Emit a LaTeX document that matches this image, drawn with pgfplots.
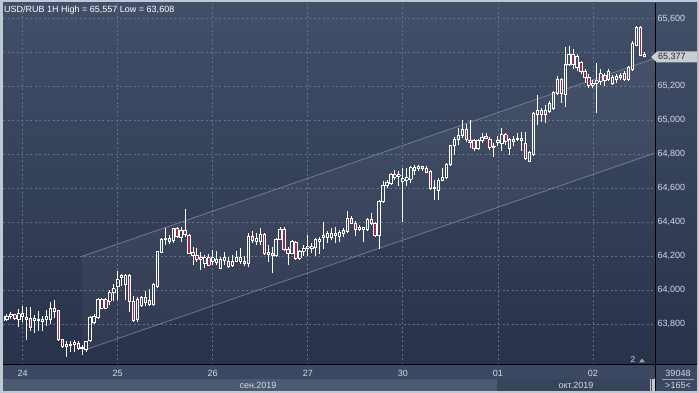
\documentclass[border=0pt]{standalone}
\usepackage{pgfplots}
\usepackage{pgfplotstable}
\pgfplotsset{compat=1.18}
\usepackage{fontspec}
\setmainfont{Liberation Sans}
\definecolor{bgtop}{RGB}{66,79,104}
\definecolor{bgbot}{RGB}{40,50,74}
\definecolor{framec}{RGB}{192,200,212}
\definecolor{gridc}{RGB}{98,112,138}
\definecolor{redc}{RGB}{160,38,74}
\definecolor{chan}{RGB}{150,160,182}
\definecolor{datesb}{RGB}{60,72,98}
\definecolor{sepb}{RGB}{76,89,115}
\definecolor{octb}{RGB}{56,68,92}
\definecolor{lbl}{RGB}{212,218,228}
\definecolor{markerc}{RGB}{200,205,214}

\pgfplotstableread{
h O H L C
-5 63816 63871 63810 63845
-4 63825 63861 63816 63845
-3 63845 63871 63831 63857
-2 63855 63861 63825 63831
-1 63825 63886 63780 63861
0 63861 63906 63810 63845
1 63837 63902 63708 63825
2 63831 63902 63759 63780
3 63820 63851 63749 63831
4 63820 63878 63759 63827
5 63816 63845 63759 63829
6 63825 63882 63790 63845
7 63825 63927 63800 63892
8 63871 63939 63837 63892
9 63878 63882 63702 63708
10 63708 63714 63657 63667
11 63667 63698 63608 63678
12 63674 63698 63637 63682
13 63678 63708 63637 63694
14 63688 63702 63645 63653
15 63653 63678 63616 63661
16 63647 63702 63637 63698
17 63702 63845 63698 63837
18 63810 63861 63800 63845
19 63837 63953 63831 63947
20 63892 63953 63886 63947
21 63943 63953 63886 63892
22 63933 64000 63912 63984
23 63984 64035 63933 64008
24 64020 64110 63939 64061
25 64075 64096 64024 64086
26 64035 64096 63943 64086
27 64086 64096 63871 63933
28 63933 63963 63810 63820
29 63827 63957 63811 63945
30 63910 63965 63900 63955
31 63925 63994 63906 63955
32 63941 64004 63906 63916
33 63916 64040 63906 64034
34 64020 64232 64010 64226
35 64222 64305 64216 64299
36 64297 64368 64265 64305
37 64285 64325 64269 64305
38 64295 64368 64275 64364
39 64360 64374 64305 64315
40 64311 64374 64285 64354
41 64354 64479 64315 64325
42 64321 64329 64210 64216
43 64222 64255 64147 64206
44 64206 64250 64166 64182
45 64194 64226 64117 64182
46 64156 64206 64130 64190
47 64190 64210 64143 64147
48 64170 64236 64147 64190
49 64162 64230 64147 64180
50 64127 64196 64123 64182
51 64172 64226 64147 64190
52 64170 64196 64131 64137
53 64143 64206 64137 64170
54 64170 64230 64166 64190
55 64170 64245 64156 64190
56 64170 64202 64143 64156
57 64156 64335 64137 64315
58 64315 64345 64275 64291
59 64285 64335 64265 64305
60 64285 64368 64265 64325
61 64325 64335 64206 64216
62 64210 64266 64164 64221
63 64217 64256 64103 64201
64 64201 64306 64193 64300
65 64300 64370 64292 64355
66 64355 64370 64227 64237
67 64241 64256 64148 64217
68 64217 64296 64213 64286
69 64280 64286 64178 64188
70 64188 64237 64178 64227
71 64227 64266 64201 64247
72 64247 64325 64201 64256
73 64243 64276 64217 64256
74 64252 64306 64201 64296
75 64286 64311 64213 64300
76 64311 64398 64241 64319
77 64311 64345 64276 64335
78 64311 64365 64296 64331
79 64319 64370 64276 64335
80 64315 64355 64280 64339
81 64331 64365 64311 64349
82 64345 64463 64335 64424
83 64424 64433 64390 64394
84 64394 64404 64319 64355
85 64370 64384 64345 64355
86 64355 64374 64280 64370
87 64355 64424 64345 64418
88 64418 64453 64384 64394
89 64390 64398 64311 64319
90 64319 64532 64241 64522
91 64522 64640 64512 64614
92 64614 64646 64600 64634
93 64630 64689 64620 64679
94 64666 64705 64650 64679
95 64679 64700 64610 64670
96 64641 64720 64400 64655
97 64647 64720 64612 64661
98 64651 64733 64631 64720
99 64706 64739 64680 64720
100 64714 64739 64700 64726
101 64726 64730 64700 64714
102 64714 64730 64690 64694
103 64700 64706 64588 64596
104 64596 64651 64533 64602
105 64588 64661 64533 64647
106 64647 64720 64641 64661
107 64661 64749 64651 64739
108 64739 64857 64733 64851
109 64851 64902 64798 64890
110 64890 64955 64857 64910
111 64910 65004 64896 64945
112 64945 64980 64871 64886
113 64871 65004 64837 64882
114 64882 64890 64818 64837
115 64837 64890 64827 64882
116 64882 64925 64867 64902
117 64896 64925 64890 64906
118 64890 64902 64827 64843
119 64843 64867 64784 64847
120 64867 64906 64847 64882
121 64863 64955 64818 64916
122 64916 64925 64857 64876
123 64837 64896 64798 64886
124 64876 64906 64847 64890
125 64886 64925 64876 64896
126 64882 64931 64818 64896
127 64863 64931 64765 64773
128 64759 64818 64753 64808
129 64800 65050 64790 65040
130 65034 65150 64970 65060
131 65060 65070 64990 65034
132 65060 65090 64986 65034
133 65050 65114 65040 65100
134 65070 65174 65060 65166
135 65160 65260 65150 65240
136 65240 65250 65100 65160
137 65150 65430 65080 65330
138 65330 65440 65320 65390
139 65390 65420 65300 65330
140 65310 65390 65290 65374
141 65340 65350 65270 65290
142 65290 65300 65220 65250
143 65254 65270 65190 65206
144 65206 65240 65190 65220
145 65220 65340 65040 65234
146 65230 65300 65210 65274
147 65266 65280 65200 65234
148 65240 65300 65230 65286
149 65254 65266 65210 65220
150 65240 65270 65220 65260
151 65254 65280 65240 65266
152 65274 65290 65230 65240
153 65240 65320 65230 65310
154 65300 65465 65290 65455
155 65444 65557 65440 65545
156 65550 65557 65380 65385
157 65390 65400 65370 65377
}\candles

\begin{document}
\begin{tikzpicture}
\fill[framec] (0bp,0bp) rectangle (699bp,393bp);
\shade[top color=bgtop, bottom color=bgbot] (3bp,28bp) rectangle (697bp,390bp);
\fill[datesb] (3bp,14bp) rectangle (697bp,28bp);
\fill[sepb] (3bp,2bp) rectangle (497bp,14bp);
\fill[octb] (497bp,2bp) rectangle (650bp,14bp);
\fill[datesb] (656bp,2bp) rectangle (697bp,14bp);
\begin{axis}[
  at={(3bp,28bp)}, anchor=south west,
  width=652bp, height=362bp, scale only axis,
  xmin=-4.97, xmax=159.7, ymin=63558, ymax=65691,
  axis line style={draw=none},
  scaled ticks=false,
  xtick={0,24,48,72,96,120,144},
  xticklabels={24,25,26,27,30,01,02},
  ytick={63800,64000,64200,64400,64600,64800,65000,65200,65600},
  extra y ticks={65400},
  extra y tick labels={},
  extra y tick style={grid=major},
  grid=major,
  grid style={draw=gridc, line width=0.6bp, dash pattern=on 2bp off 2.5bp},
  major tick length=0pt,
  yticklabel pos=right,
  yticklabel style={anchor=west, xshift=-1bp, text=lbl, font=\fontsize{9bp}{10bp}\selectfont},
  xticklabel style={anchor=base, yshift=-11.5bp, text=lbl, font=\fontsize{9bp}{10bp}\selectfont},
  /pgf/number format/.cd, fixed, 1000 sep={,}, assume math mode=true,
]
% channel
\addplot[fill=white, fill opacity=0.04, draw=none, forget plot] coordinates {(14.97,64198) (159.7,65365) (159.7,64807) (14.97,63641)} -- cycle;
\addplot[chan, line width=0.8bp, draw opacity=0.6, forget plot] coordinates {(14.97,64198) (159.7,65365)};
\addplot[chan, line width=0.8bp, draw opacity=0.6, forget plot] coordinates {(15.5,63645) (159.7,64807)};
% upper wicks
\addplot[draw=none, forget plot, error bars/.cd, y dir=plus, y explicit, error mark=none,
  error bar style={draw=white, solid, line width=0.8bp}]
  table[x=h, y expr={max(\thisrow{O},\thisrow{C})}, y error plus expr={\thisrow{H}-max(\thisrow{O},\thisrow{C})}] {\candles};
% lower wicks
\addplot[draw=none, forget plot, error bars/.cd, y dir=plus, y explicit, error mark=none,
  error bar style={draw=white, solid, line width=0.8bp}]
  table[x=h, y=L, y error plus expr={min(\thisrow{O},\thisrow{C})-\thisrow{L}}] {\candles};
% red bodies
\addplot[draw=none, forget plot, error bars/.cd, y dir=plus, y explicit, error mark=none,
  error bar style={draw=redc, solid, line width=2.4bp}]
  table[x=h, y=C, y error plus expr={(\thisrow{O}>\thisrow{C})*(\thisrow{O}-\thisrow{C})}] {\candles};
% body sides
\addplot[draw=none, forget plot, error bars/.cd, y dir=plus, y explicit, error mark=none,
  error bar style={draw=white, solid, line width=0.8bp}]
  table[x expr={\thisrow{h}-0.303}, y expr={min(\thisrow{O},\thisrow{C})}, y error plus expr={abs(\thisrow{O}-\thisrow{C})}] {\candles};
\addplot[draw=none, forget plot, error bars/.cd, y dir=plus, y explicit, error mark=none,
  error bar style={draw=white, solid, line width=0.8bp}]
  table[x expr={\thisrow{h}+0.303}, y expr={min(\thisrow{O},\thisrow{C})}, y error plus expr={abs(\thisrow{O}-\thisrow{C})}] {\candles};
% body caps
\addplot[only marks, forget plot, mark=-, mark size=1.6bp, color=white, mark options={solid, line width=0.8bp}]
  table[x=h, y=O] {\candles};
\addplot[only marks, forget plot, mark=-, mark size=1.6bp, color=white, mark options={solid, line width=0.8bp}]
  table[x=h, y=C] {\candles};
\end{axis}
\draw[black, line width=1bp] (3bp,28bp) -- (697bp,28bp);
\draw[black, line width=1bp] (655bp,2bp) -- (655bp,390bp);
\draw[black!70, line width=0.6bp] (651bp,2bp) -- (651bp,28bp);
% title
\node[anchor=base west, inner sep=0pt, text=white, font=\fontsize{9bp}{10bp}\selectfont] at (4bp,380.3bp) {USD/RUB 1H High = 65,557 Low = 63,608};
% price marker
\fill[markerc] (651bp,336bp) -- (657bp,341.5bp) -- (697bp,341.5bp) -- (697bp,330.5bp) -- (657bp,330.5bp) -- cycle;
\node[anchor=west, inner sep=0pt, text=black!85, font=\fontsize{9bp}{10bp}\selectfont] at (658bp,336bp) {65,377};
% months
\node[anchor=base, inner sep=0pt, text=lbl, font=\fontsize{9bp}{10bp}\selectfont] at (258bp,4.5bp) {сен.2019};
\node[anchor=base, inner sep=0pt, text=lbl, font=\fontsize{9bp}{10bp}\selectfont] at (576bp,4.5bp) {окт.2019};
% bottom right box
\node[anchor=base, inner sep=0pt, text=lbl, font=\fontsize{9bp}{10bp}\selectfont] at (678bp,16.5bp) {39048};
\draw[lbl!60!datesb, line width=0.5bp] (662bp,14bp) -- (694bp,14bp);
\node[anchor=base, inner sep=0pt, text=lbl, font=\fontsize{9bp}{10bp}\selectfont] at (678bp,4.5bp) {>165<};
% pane counter
\node[anchor=base, inner sep=0pt, text=lbl, font=\fontsize{8.5bp}{10bp}\selectfont] at (633bp,30.5bp) {2};
\fill[gray!70] (639bp,30.5bp) -- (645bp,30.5bp) -- (642bp,34.5bp) -- cycle;
\end{tikzpicture}
\end{document}
